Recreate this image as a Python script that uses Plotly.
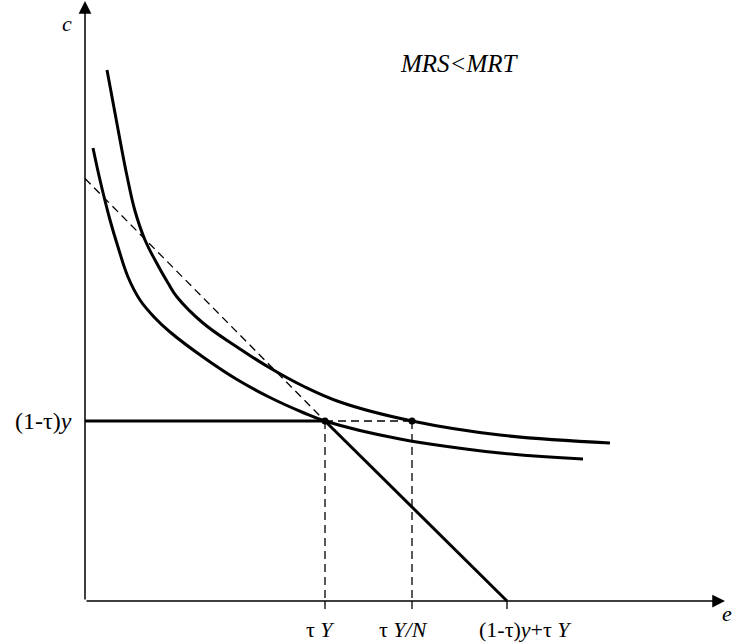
import plotly.graph_objects as go

# Indifference curves
outer_e = [0.44, 0.70, 0.84, 1.00, 1.20, 1.40, 1.66, 1.84, 2.36, 3.04, 3.70, 4.36, 5.10, 6.54, 8.30, 10.50]
outer_c = [10.62, 9.22, 8.50, 7.80, 7.22, 6.82, 6.36, 6.08, 5.56, 5.08, 4.66, 4.30, 3.98, 3.60, 3.32, 3.16]
inner_e = [0.16, 0.30, 0.50, 0.66, 0.86, 1.10, 1.40, 1.70, 2.36, 3.04, 3.70, 4.36, 4.80, 6.30, 8.30, 9.96]
inner_c = [9.06, 8.42, 7.62, 7.08, 6.48, 6.02, 5.66, 5.38, 4.88, 4.43, 4.07, 3.77, 3.60, 3.24, 2.96, 2.84]

# key values
tau_Y = 4.80          # kink e
tau_Y_N = 6.54        # point on outer curve
budget_end = 8.44     # (1-tau)y + tau Y
c_level = 3.60        # (1-tau)y
dashed_intercept = 8.45
e_axis_max = 12.8
c_axis_max = 12.0

tick_labels = ["τ <i>Y</i>", "τ <i>Y/N</i>", "(1-τ)<i>y</i>+τ <i>Y</i>"]
tick_pos = [tau_Y, tau_Y_N, budget_end]
tick_label_x = [4.70, 6.36, 8.80]

fig = go.Figure()
blk = "black"
dash = "8px,5px"

def seg(x, y, width, d="solid"):
    fig.add_trace(go.Scatter(x=x, y=y, mode="lines",
                             line=dict(color=blk, width=width, dash=d),
                             hoverinfo="skip", showlegend=False))

# dashed lines
seg([0, tau_Y], [dashed_intercept, c_level], 1.3, dash)
seg([tau_Y, tau_Y_N], [c_level, c_level], 1.3, dash)
seg([tau_Y, tau_Y], [c_level, 0], 1.3, dash)
seg([tau_Y_N, tau_Y_N], [c_level, 0], 1.3, dash)

# budget: horizontal then sloped
seg([0, tau_Y], [c_level, c_level], 3)
seg([tau_Y, budget_end], [c_level, 0], 3)

# indifference curves
for xs, ys in [(outer_e, outer_c), (inner_e, inner_c)]:
    fig.add_trace(go.Scatter(x=xs, y=ys, mode="lines",
                             line=dict(color=blk, width=3, shape="spline", smoothing=1.1),
                             hoverinfo="skip", showlegend=False))

# points
fig.add_trace(go.Scatter(x=[tau_Y, tau_Y_N], y=[c_level, c_level], mode="markers",
                         marker=dict(color=blk, size=7), hoverinfo="skip", showlegend=False))

# ticks under axis
for tp in tick_pos:
    seg([tp, tp], [0, -0.16], 1.3)

# axes arrows
fig.add_annotation(x=e_axis_max, y=0, ax=0, ay=0, xref="x", yref="y", axref="x", ayref="y",
                   text="", showarrow=True, arrowhead=2, arrowsize=1.7, arrowwidth=1.5, arrowcolor=blk)
fig.add_annotation(x=0, y=c_axis_max, ax=0, ay=0, xref="x", yref="y", axref="x", ayref="y",
                   text="", showarrow=True, arrowhead=2, arrowsize=1.7, arrowwidth=1.5, arrowcolor=blk)

font = dict(family="Liberation Serif", size=22, color=blk)
for lab, lx in zip(tick_labels, tick_label_x):
    fig.add_annotation(x=lx, y=0, yshift=-28, text=lab, showarrow=False, font=font)
fig.add_annotation(x=-0.84, y=c_level, text="(1-τ)<i>y</i>", showarrow=False,
                   font=dict(family="Liberation Serif", size=24, color=blk))
fig.add_annotation(x=-0.36, y=11.56, text="<i>c</i>", showarrow=False, font=font)
fig.add_annotation(x=12.84, y=-0.24, text="<i>e</i>", showarrow=False, font=font)
fig.add_annotation(x=7.48, y=10.76, text="<i>MRS<MRT</i>", showarrow=False,
                   font=dict(family="Liberation Serif", size=25, color=blk))

fig.update_layout(
    width=743, height=644,
    margin=dict(l=0, r=0, t=0, b=0),
    paper_bgcolor="white", plot_bgcolor="white",
    xaxis=dict(range=[-1.7, 13.16], visible=False, fixedrange=True),
    yaxis=dict(range=[-0.86, 12.02], visible=False, fixedrange=True),
)

fig.write_html("out.html", config={"displayModeBar": False},
               post_script="document.body.style.margin='0px';")
